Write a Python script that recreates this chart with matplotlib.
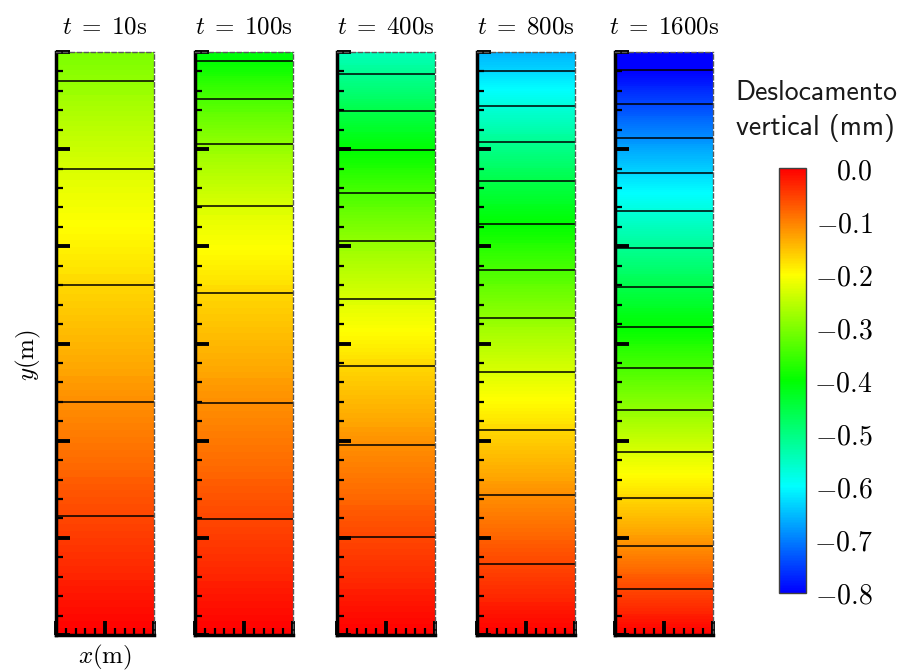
import matplotlib
matplotlib.use('Agg')
import matplotlib.pyplot as plt
from matplotlib.colors import LinearSegmentedColormap, Normalize
from matplotlib.cm import ScalarMappable
from matplotlib.ticker import MultipleLocator
import numpy as np

plt.rcParams['mathtext.fontset'] = 'cm'

# tempos (s) de cada coluna
times = [10, 100, 400, 800, 1600]

# niveis das isolinhas (mm)
contour_levels = [-0.057, -0.114, -0.171, -0.229, -0.286, -0.343, -0.400,
                  -0.457, -0.514, -0.571, -0.629, -0.686, -0.743, -0.800]

# altura (m) onde cada isolinha corta a coluna, de baixo para cima
y_t10 = [1.22, 2.40, 3.60, 4.80, 5.70]
y_t100 = [1.19, 2.39, 3.52, 4.41, 5.05, 5.52, 5.91]
y_t400 = [1.01, 1.96, 2.77, 3.46, 4.05, 4.55, 4.99, 5.39, 5.77]
y_t800 = [0.73, 1.44, 2.11, 2.71, 3.26, 3.76, 4.23, 4.67, 5.07, 5.44, 5.80]
y_t1600 = [0.47, 0.92, 1.41, 1.88, 2.32, 2.75, 3.17, 3.58, 3.98, 4.36,
           4.75, 5.11, 5.46, 5.81]
y_crossings = [y_t10, y_t100, y_t400, y_t800, y_t1600]

# deslocamento no topo (y = 6 m) e na base (y = 0)
u_top = [-0.305, -0.413, -0.545, -0.66, -0.83]
u_base = 0.0

cbar_ticks = [0.0, -0.1, -0.2, -0.3, -0.4, -0.5, -0.6, -0.7, -0.8]

cmap = LinearSegmentedColormap.from_list('desl', ['blue', 'cyan', 'lime', 'yellow', 'red'])
norm = Normalize(vmin=-0.8, vmax=0.0)

W, H = 899, 671
fig = plt.figure(figsize=(W / 100, H / 100), dpi=100)

lefts = [56, 195, 337, 477, 615]
pw, top_px, bot_px = 98, 52, 635

fill_levels = np.linspace(-0.8, 0.0, 241)

for i, t in enumerate(times):
    ax = fig.add_axes([lefts[i] / W, 1 - bot_px / H, pw / W, (bot_px - top_px) / H])
    ys = [0.0] + y_crossings[i] + [6.0]
    us = [u_base] + contour_levels[:len(y_crossings[i])] + [u_top[i]]
    Z = np.column_stack([us, us])
    X = [0.0, 1.0]
    ax.contourf(X, ys, Z, levels=fill_levels, cmap=cmap, norm=norm,
                extend='both', antialiased=False)
    ax.contour(X, ys, Z, levels=sorted(contour_levels[:len(y_crossings[i])]),
               colors='black', linewidths=1.1, linestyles='solid')
    ax.set_xlim(0, 1)
    ax.set_ylim(0, 6)
    ax.xaxis.set_major_locator(MultipleLocator(0.5))
    ax.xaxis.set_minor_locator(MultipleLocator(0.1))
    ax.yaxis.set_major_locator(MultipleLocator(1))
    ax.yaxis.set_minor_locator(MultipleLocator(0.2))
    ax.tick_params(which='both', direction='in', top=False, right=False,
                   labelleft=False, labelbottom=False, color='black')
    ax.tick_params(which='major', length=10, width=2.8)
    ax.tick_params(which='minor', length=5, width=1.6)
    for s in ['left', 'bottom']:
        ax.spines[s].set_linewidth(2.5)
    for s in ['top', 'right']:
        ax.spines[s].set_linewidth(1.0)
        ax.spines[s].set_linestyle((0, (3, 2)))
        ax.spines[s].set_color('0.35')
    ax.set_title(r'$t\;=\;%d\mathrm{s}$' % t, fontsize=18, pad=13)

fig.text(28 / W, 1 - 355 / H, r'$y\mathrm{(m)}$', rotation=90, fontsize=18,
         ha='center', va='center')
fig.text(105 / W, 1 - 657 / H, r'$x\mathrm{(m)}$', fontsize=18,
         ha='center', va='center')

cax = fig.add_axes([779 / W, 1 - 593 / H, 27 / W, 425 / H])
cb = fig.colorbar(ScalarMappable(norm=norm, cmap=cmap), cax=cax)
cb.set_ticks(cbar_ticks, labels=[r'$%.1f$' % v if v < 0 else r'$0.0$' for v in cbar_ticks])
cax.tick_params(length=0, pad=48, labelsize=20)
for lab in cax.get_yticklabels():
    lab.set_horizontalalignment('right')
cb.outline.set_linewidth(1.0)
cb.outline.set_edgecolor('0.25')

fig.text(816 / W, 1 - 93 / H, 'Deslocamento', family='cmss10', fontsize=20,
         ha='center', va='center', color='0.1')
fig.text(815 / W, 1 - 128 / H, 'vertical (mm)', family='cmss10', fontsize=20,
         ha='center', va='center', color='0.1')

fig.savefig('out.png', dpi=100)
